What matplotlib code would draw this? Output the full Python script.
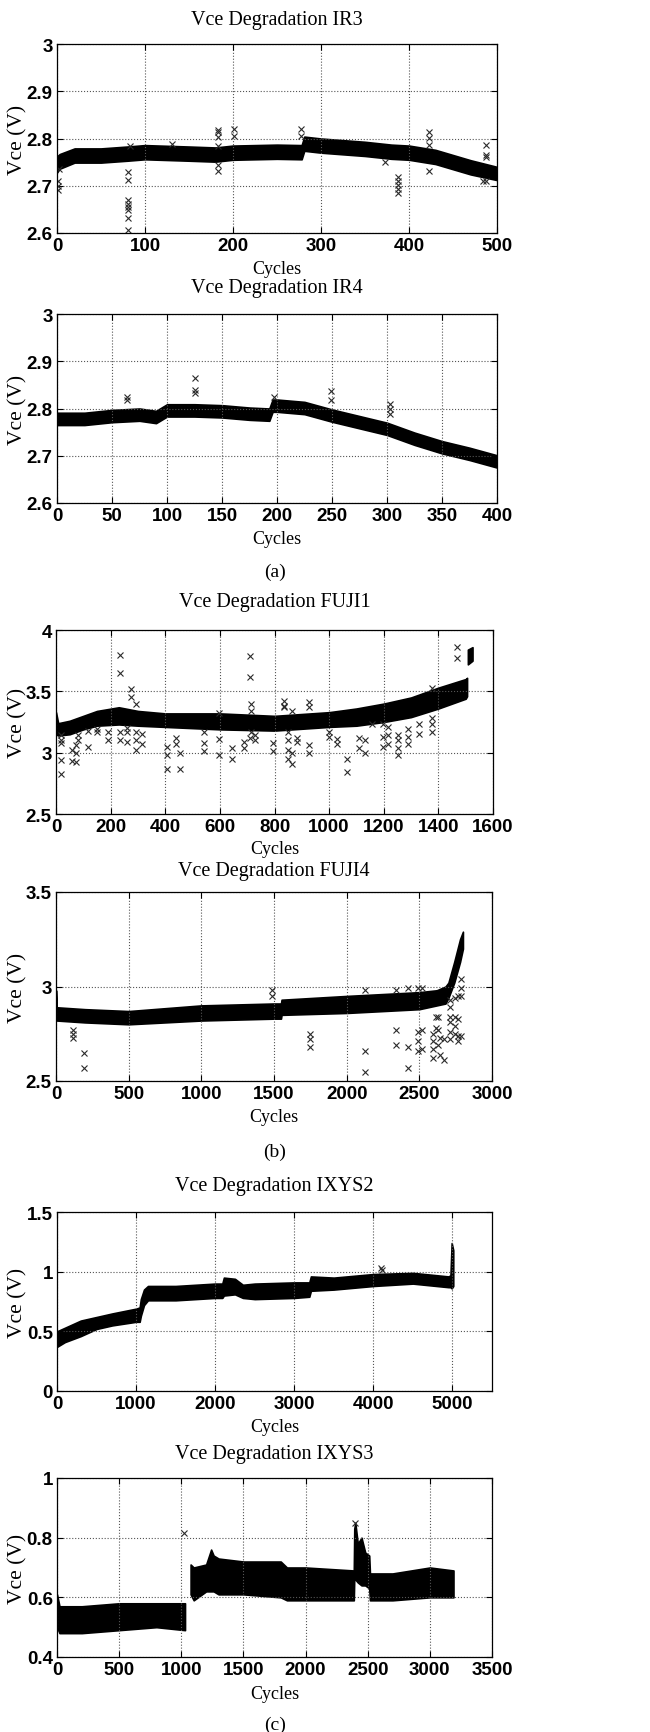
import numpy as np
import matplotlib
matplotlib.use("Agg")
import matplotlib.pyplot as plt

# ---- IR3 ----
ir3_cyc = [0, 3, 20, 50, 80, 100, 150, 180, 200, 250, 278, 281, 300, 350, 380, 400, 430, 450, 470, 500]
ir3_hi = [2.762, 2.767, 2.779, 2.779, 2.783, 2.786, 2.783, 2.781, 2.785, 2.787, 2.786, 2.804, 2.800,
          2.793, 2.787, 2.785, 2.776, 2.765, 2.754, 2.740]
ir3_lo = [2.728, 2.736, 2.749, 2.749, 2.753, 2.756, 2.753, 2.751, 2.755, 2.757, 2.756, 2.774, 2.770,
          2.763, 2.757, 2.755, 2.746, 2.735, 2.724, 2.712]
ir3_out_x = [1, 1, 1, 2, 81, 81, 81, 81, 81, 81, 81, 81, 83, 131, 183, 183, 183, 183, 183, 183,
             201, 201, 277, 277, 373, 388, 388, 388, 388, 388, 423, 423, 423, 423, 484, 488, 488, 488, 488]
ir3_out_y = [2.690, 2.700, 2.711, 2.735, 2.729, 2.713, 2.669, 2.662, 2.655, 2.648, 2.632, 2.606,
             2.785, 2.789, 2.818, 2.813, 2.803, 2.785, 2.743, 2.732, 2.820, 2.805, 2.820, 2.806,
             2.751, 2.718, 2.709, 2.701, 2.694, 2.685, 2.813, 2.801, 2.787, 2.732, 2.711,
             2.787, 2.766, 2.761, 2.709]

# ---- IR4 ----
ir4_cyc = [0, 25, 50, 75, 90, 100, 125, 150, 175, 193, 196, 200, 225, 250, 275, 300, 325, 350, 375, 400]
ir4_hi = [2.791, 2.791, 2.797, 2.800, 2.795, 2.809, 2.809, 2.807, 2.802, 2.800, 2.819, 2.819, 2.814,
          2.798, 2.784, 2.770, 2.749, 2.731, 2.717, 2.701]
ir4_lo = [2.765, 2.765, 2.771, 2.774, 2.769, 2.783, 2.783, 2.781, 2.776, 2.774, 2.793, 2.793, 2.788,
          2.772, 2.758, 2.744, 2.723, 2.705, 2.691, 2.675]
ir4_out_x = [64, 64, 125, 125, 125, 197, 249, 249, 303, 303, 303]
ir4_out_y = [2.825, 2.817, 2.864, 2.840, 2.833, 2.824, 2.836, 2.817, 2.810, 2.799, 2.789]

# ---- FUJI1 ----
fuji1_cyc = [0, 8, 50, 100, 150, 230, 300, 400, 600, 800, 1000, 1100, 1200, 1300, 1400, 1500, 1505]
fuji1_hi = [3.33, 3.24, 3.26, 3.30, 3.34, 3.37, 3.34, 3.32, 3.32, 3.30, 3.33, 3.36, 3.40, 3.45, 3.53, 3.60, 3.61]
fuji1_lo = [3.15, 3.14, 3.15, 3.19, 3.22, 3.23, 3.22, 3.21, 3.19, 3.18, 3.21, 3.22, 3.25, 3.29, 3.36, 3.44, 3.46]
fuji1_end_cyc = [1508, 1525]
fuji1_end_hi = [3.84, 3.86]
fuji1_end_lo = [3.72, 3.75]
fuji1_out_x = [18, 18, 18, 18, 18, 60, 60, 73, 73, 73, 82, 82, 118, 118, 149, 149, 192, 192,
               234, 234, 234, 234, 261, 261, 261, 275, 275, 293, 293, 293, 293, 314, 314,
               405, 405, 405, 439, 439, 455, 455, 543, 543, 543, 598, 598, 598, 646, 646,
               690, 690, 709, 709, 709, 714, 714, 714, 729, 729, 794, 794, 833, 833, 833,
               848, 848, 848, 848, 864, 864, 864, 882, 882, 925, 925, 925, 925, 998, 998,
               1028, 1028, 1065, 1065, 1111, 1111, 1132, 1132, 1157, 1197, 1197, 1197,
               1215, 1215, 1215, 1252, 1252, 1252, 1252, 1289, 1289, 1289, 1328, 1328,
               1377, 1377, 1377, 1377, 1468, 1468]
fuji1_out_y = [3.14, 3.10, 3.08, 2.94, 2.83, 3.02, 2.93, 3.06, 3.00, 2.92, 3.14, 3.10, 3.18, 3.05,
               3.19, 3.17, 3.17, 3.10, 3.80, 3.65, 3.17, 3.10, 3.20, 3.17, 3.09, 3.52, 3.45,
               3.40, 3.17, 3.10, 3.02, 3.15, 3.07, 3.05, 2.98, 2.87, 3.12, 3.07, 3.00, 2.87,
               3.17, 3.08, 3.01, 3.32, 3.11, 2.98, 3.04, 2.95, 3.09, 3.04, 3.79, 3.62, 3.12,
               3.40, 3.34, 3.17, 3.14, 3.10, 3.08, 3.01, 3.42, 3.38, 3.37, 3.17, 3.10, 3.02,
               2.95, 3.34, 3.00, 2.91, 3.12, 3.09, 3.41, 3.37, 3.06, 3.00, 3.17, 3.13, 3.11,
               3.07, 2.95, 2.84, 3.12, 3.04, 3.10, 3.00, 3.23, 3.23, 3.13, 3.05, 3.21, 3.14,
               3.07, 3.14, 3.10, 3.04, 2.98, 3.19, 3.13, 3.07, 3.23, 3.15, 3.53, 3.28, 3.23,
               3.17, 3.86, 3.77]

# ---- FUJI4 ----
fuji4_cyc = [0, 5, 200, 500, 1000, 1500, 1548, 1552, 2000, 2500, 2620, 2680, 2700, 2740, 2780, 2800]
fuji4_hi = [2.98, 2.89, 2.88, 2.87, 2.90, 2.91, 2.91, 2.93, 2.95, 2.97, 2.98, 3.00, 3.02, 3.13, 3.25, 3.29]
fuji4_lo = [2.82, 2.82, 2.81, 2.80, 2.82, 2.83, 2.83, 2.85, 2.86, 2.88, 2.90, 2.91, 2.94, 3.02, 3.13, 3.20]
fuji4_out_x = [115, 115, 115, 192, 192, 1489, 1489, 1751, 1751, 1751, 2129, 2129, 2129,
               2342, 2342, 2342, 2422, 2422, 2422, 2491, 2491, 2491, 2491, 2521, 2521, 2521,
               2594, 2594, 2594, 2594, 2617, 2617, 2628, 2628, 2628, 2644, 2644, 2667, 2667,
               2709, 2709, 2709, 2709, 2709, 2709, 2743, 2743, 2743, 2743, 2766, 2766, 2766, 2766,
               2789, 2789, 2789, 2789]
fuji4_out_y = [2.77, 2.75, 2.73, 2.65, 2.57, 2.98, 2.95, 2.75, 2.72, 2.68, 2.98, 2.66, 2.55,
               2.98, 2.77, 2.69, 2.99, 2.68, 2.57, 2.99, 2.76, 2.71, 2.66, 2.99, 2.77, 2.67,
               2.75, 2.71, 2.67, 2.62, 2.84, 2.78, 2.84, 2.77, 2.69, 2.73, 2.64, 2.72, 2.61,
               2.93, 2.89, 2.84, 2.81, 2.76, 2.72, 2.94, 2.84, 2.79, 2.75, 2.95, 2.83, 2.74, 2.71,
               3.04, 2.99, 2.95, 2.74]

# ---- IXYS2 ----
ixys2_cyc = [0, 100, 300, 500, 700, 1000, 1045, 1060, 1100, 1150, 1500, 2000, 2090, 2110, 2250,
             2350, 2500, 3000, 3190, 3210, 3500, 4000, 4500, 4950, 4975, 4990, 5010]
ixys2_hi = [0.50, 0.53, 0.59, 0.62, 0.65, 0.69, 0.70, 0.77, 0.85, 0.88, 0.88, 0.90, 0.90, 0.95, 0.94,
            0.89, 0.90, 0.91, 0.91, 0.96, 0.95, 0.98, 0.99, 0.96, 0.97, 1.24, 1.18]
ixys2_lo = [0.37, 0.41, 0.46, 0.52, 0.55, 0.58, 0.58, 0.63, 0.72, 0.76, 0.76, 0.78, 0.78, 0.80, 0.81,
            0.78, 0.77, 0.78, 0.79, 0.84, 0.85, 0.88, 0.90, 0.87, 0.87, 0.86, 0.88]
ixys2_out_x = [4100, 4110]
ixys2_out_y = [1.03, 1.01]

# ---- IXYS3 ----
ixys3_a_cyc = [0, 20, 50, 200, 500, 800, 1030]
ixys3_a_hi = [0.61, 0.57, 0.57, 0.57, 0.58, 0.58, 0.58]
ixys3_a_lo = [0.50, 0.48, 0.48, 0.48, 0.49, 0.50, 0.49]
ixys3_b_cyc = [1075, 1100, 1200, 1240, 1260, 1300, 1500, 1800, 1850, 2000, 2388, 2392, 2400,
               2420, 2450, 2480, 2512, 2518, 2700, 3000, 3190]
ixys3_b_hi = [0.71, 0.70, 0.71, 0.76, 0.74, 0.73, 0.72, 0.72, 0.70, 0.70, 0.69, 0.83, 0.85,
              0.78, 0.80, 0.75, 0.74, 0.68, 0.68, 0.70, 0.69]
ixys3_b_lo = [0.61, 0.59, 0.62, 0.62, 0.62, 0.61, 0.61, 0.60, 0.59, 0.59, 0.59, 0.67, 0.66,
              0.65, 0.64, 0.64, 0.63, 0.59, 0.59, 0.60, 0.60]
ixys3_out_x = [1023, 2395]
ixys3_out_y = [0.815, 0.85]

W, H = 650, 1733
fig = plt.figure(figsize=(W / 100, H / 100), dpi=100)
SERIF = ["Liberation Serif", "DejaVu Serif"]
TICKFONT = ["Liberation Sans", "DejaVu Sans"]


def px_axes(left, right, top, bottom):
    return fig.add_axes([left / W, 1 - bottom / H, (right - left) / W, (bottom - top) / H])


def style(ax, title, title_y, xlab_y, xlim, xticks, ylim, yticks):
    ax.set_xlim(*xlim)
    ax.set_ylim(*ylim)
    ax.set_xticks(xticks)
    ax.set_yticks(yticks)
    ax.set_xticklabels([f"{v:g}" for v in xticks])
    ax.set_yticklabels([f"{v:g}" for v in yticks])
    for lab in ax.get_xticklabels() + ax.get_yticklabels():
        lab.set_family(TICKFONT)
        lab.set_fontweight("bold")
        lab.set_fontsize(13.5)
    ax.tick_params(direction="in", length=4, width=0.8, top=True, right=True, pad=3)
    ax.grid(True, linestyle=":", color="#555555", linewidth=0.8)
    for sp in ax.spines.values():
        sp.set_linewidth(0.9)
    pos = ax.get_position()
    cx = pos.x0 + pos.width / 2
    fig.text(cx, 1 - title_y / H, title, family=SERIF, fontsize=14.5, ha="center", va="center")
    fig.text(cx, 1 - xlab_y / H, "Cycles", family=SERIF, fontsize=13, ha="center", va="center")
    fig.text(18 / W, pos.y0 + pos.height / 2, "Vce (V)", family=SERIF, fontsize=15.5,
             rotation=90, ha="center", va="center")


def band(ax, cyc, lo, hi):
    ax.fill_between(cyc, lo, hi, color="black", linewidth=1.2, edgecolor="black")


def outliers(ax, x, y):
    ax.plot(x, y, "x", color="#2a2a2a", markersize=4, markeredgewidth=0.8)


# (a)
ax1 = px_axes(57, 497, 45, 234)
band(ax1, ir3_cyc, ir3_lo, ir3_hi)
outliers(ax1, ir3_out_x, ir3_out_y)
style(ax1, "Vce Degradation IR3", 20, 270, (0, 500), np.arange(0, 501, 100),
      (2.6, 3.0), [2.6, 2.7, 2.8, 2.9, 3.0])

ax2 = px_axes(57, 497, 315, 504)
band(ax2, ir4_cyc, ir4_lo, ir4_hi)
outliers(ax2, ir4_out_x, ir4_out_y)
style(ax2, "Vce Degradation IR4", 288, 540, (0, 400), np.arange(0, 401, 50),
      (2.6, 3.0), [2.6, 2.7, 2.8, 2.9, 3.0])
fig.text(275 / W, 1 - 572 / H, "(a)", family=SERIF, fontsize=14, ha="center", va="center")

# (b)
ax3 = px_axes(56, 493, 631, 815)
band(ax3, fuji1_cyc, fuji1_lo, fuji1_hi)
band(ax3, fuji1_end_cyc, fuji1_end_lo, fuji1_end_hi)
outliers(ax3, fuji1_out_x, fuji1_out_y)
style(ax3, "Vce Degradation FUJI1", 603, 850, (0, 1600), np.arange(0, 1601, 200),
      (2.5, 4.0), [2.5, 3.0, 3.5, 4.0])

ax4 = px_axes(56, 492, 893, 1082)
band(ax4, fuji4_cyc, fuji4_lo, fuji4_hi)
outliers(ax4, fuji4_out_x, fuji4_out_y)
style(ax4, "Vce Degradation FUJI4", 872, 1117, (0, 3000), np.arange(0, 3001, 500),
      (2.5, 3.5), [2.5, 3.0, 3.5])
fig.text(275 / W, 1 - 1152 / H, "(b)", family=SERIF, fontsize=14, ha="center", va="center")

# (c)
ax5 = px_axes(57, 492, 1213, 1392)
band(ax5, ixys2_cyc, ixys2_lo, ixys2_hi)
outliers(ax5, ixys2_out_x, ixys2_out_y)
style(ax5, "Vce Degradation IXYS2", 1187, 1428, (0, 5500), np.arange(0, 5001, 1000),
      (0, 1.5), [0, 0.5, 1.0, 1.5])

ax6 = px_axes(57, 492, 1479, 1658)
band(ax6, ixys3_a_cyc, ixys3_a_lo, ixys3_a_hi)
band(ax6, ixys3_b_cyc, ixys3_b_lo, ixys3_b_hi)
outliers(ax6, ixys3_out_x, ixys3_out_y)
style(ax6, "Vce Degradation IXYS3", 1455, 1695, (0, 3500), np.arange(0, 3501, 500),
      (0.4, 1.0), [0.4, 0.6, 0.8, 1.0])
fig.text(275 / W, 1 - 1725 / H, "(c)", family=SERIF, fontsize=14, ha="center", va="center")

fig.savefig("out.png", dpi=100)
